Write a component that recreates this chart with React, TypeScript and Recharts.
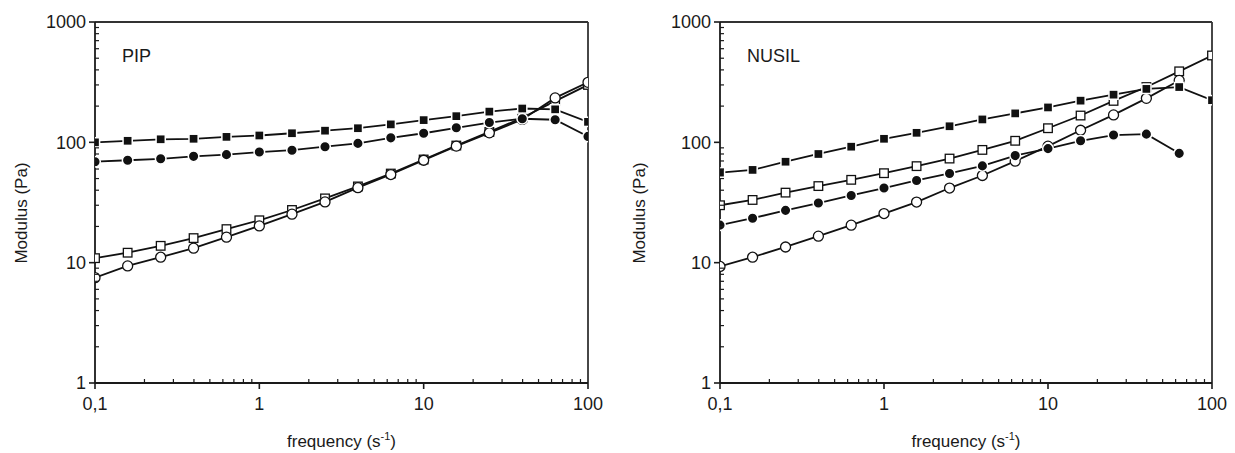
import { LineChart, Line, XAxis, YAxis, ReferenceLine } from 'recharts';

// frequencies (s^-1), 5 points per decade
const FREQ = [0.1, 0.158, 0.251, 0.398, 0.631, 1, 1.58, 2.51, 3.98, 6.31, 10, 15.8, 25.1, 39.8, 63.1, 100];

// PIP panel
const pipFilledSq = [100, 103, 106, 107, 111, 114, 119, 125, 131, 141, 153, 165, 180, 191, 188, 148];
const pipFilledCirc = [69, 71, 73, 76.5, 79, 83, 86, 92, 98, 109, 119, 132, 146, 157, 154, 112];
const pipOpenSq = [10.9, 12.1, 13.8, 16.0, 19.0, 22.5, 27.4, 34.2, 43, 55, 72, 94, 122, 160, 220, 300];
const pipOpenCirc = [7.5, 9.4, 11.1, 13.2, 16.3, 20.2, 25.3, 32, 42, 54, 71, 93, 120, 155, 234, 315];

// NUSIL panel
const nuFilledSq = [56, 59, 69, 80, 92, 107, 120, 136, 155, 174, 195, 222, 249, 278, 288, 224];
const nuOpenSq = [30, 33.2, 38.2, 43.3, 48.8, 55.4, 63.4, 73.3, 86.5, 103, 131, 167, 221, 288, 389, 527];
const nuFilledCirc = [20.5, 23.4, 27.2, 31.3, 36.2, 41.7, 48.2, 55.1, 63.7, 77.6, 88.7, 103, 115, 117, 81];
const nuOpenCirc = [9.3, 11.1, 13.5, 16.6, 20.5, 25.6, 31.9, 41.7, 53, 69.7, 93, 126, 169, 232, 327];

const X_TICKS = [0.1, 0.2, 0.3, 0.4, 0.5, 0.6, 0.7, 0.8, 0.9, 1, 2, 3, 4, 5, 6, 7, 8, 9, 10, 20, 30, 40, 50, 60, 70, 80, 90, 100];
const Y_TICKS = [1, 2, 3, 4, 5, 6, 7, 8, 9, 10, 20, 30, 40, 50, 60, 70, 80, 90, 100, 200, 300, 400, 500, 600, 700, 800, 900, 1000];

const FONT = '"Liberation Sans", Arial, Helvetica, sans-serif';
const INK = '#1a1a1a';

const toPoints = (vals: number[]) => vals.map((v, i) => ({ f: FREQ[i], v }));

const isMajor = (v: number) => Math.abs(Math.log10(v) - Math.round(Math.log10(v))) < 1e-6;
const fmt = (v: number) => (v < 1 ? String(v).replace('.', ',') : String(v));

const makeDot = (kind: string) => (p: any) => {
    const { cx, cy, index } = p;
    if (cx == null || cy == null) return <g key={index} />;
    if (kind === 'sq') return <rect key={index} x={cx - 4.6} y={cy - 4.6} width={9.2} height={9.2} fill="#111" stroke="#fff" strokeWidth={1.5} />;
    if (kind === 'sqo') return <rect key={index} x={cx - 4.3} y={cy - 4.3} width={8.6} height={8.6} fill="#fff" stroke="#111" strokeWidth={1.3} />;
    if (kind === 'ci') return <circle key={index} cx={cx} cy={cy} r={5.3} fill="#111" stroke="#fff" strokeWidth={1.5} />;
    return <circle key={index} cx={cx} cy={cy} r={5} fill="#fff" stroke="#111" strokeWidth={1.3} />;
};

const yTick = (p: any) => {
    const { x, y, payload } = p;
    const v = payload.value;
    if (!isMajor(v)) return <line x1={x} x2={x + 4} y1={y} y2={y} stroke={INK} strokeWidth={1.2} />;
    return (
        <g>
            <line x1={x - 6} x2={x} y1={y} y2={y} stroke={INK} strokeWidth={1.6} />
            <text x={x - 9} y={y} dy="0.35em" textAnchor="end" fontSize={18} fontFamily={FONT} fill={INK}>{fmt(v)}</text>
        </g>
    );
};

const xTick = (p: any) => {
    const { x, y, payload } = p;
    const v = payload.value;
    if (!isMajor(v)) return <line x1={x} x2={x} y1={y} y2={y - 4} stroke={INK} strokeWidth={1.2} />;
    return (
        <g>
            <line x1={x} x2={x} y1={y} y2={y + 6} stroke={INK} strokeWidth={1.6} />
            <text x={x} y={y + 14} dy="0.71em" textAnchor="middle" fontSize={18} fontFamily={FONT} fill={INK}>{fmt(v)}</text>
        </g>
    );
};

const xLabel = (p: any) => {
    const { x, width } = p.viewBox;
    return (
        <text x={x + width / 2} y={447} textAnchor="middle" fontSize={17} fontFamily={FONT} fill={INK}>
            <tspan>frequency (s</tspan>
            <tspan dy={-7} fontSize={11}>-1</tspan>
            <tspan dy={7}>)</tspan>
        </text>
    );
};

const yLabel = (p: any) => {
    const { x } = p.viewBox;
    const cx = x + 21;
    const cy = 213;
    return (
        <text x={cx} y={cy} dy="0.35em" textAnchor="middle" fontSize={17} fontFamily={FONT} fill={INK} transform={`rotate(-90, ${cx}, ${cy})`}>
            Modulus (Pa)
        </text>
    );
};

function Panel({ title, series, yWidth, right }: { title: string; series: { vals: number[]; kind: string }[]; yWidth: number; right: number }) {
    return (
        <LineChart width={617} height={453} margin={{ top: 22, right, bottom: 0, left: 0 }}>
            <XAxis
                dataKey="f" type="number" scale="log" domain={[0.1, 100]} ticks={X_TICKS} interval={0}
                height={70} tickSize={0} tickMargin={0} tickLine={false} tick={xTick}
                axisLine={{ stroke: INK, strokeWidth: 1.8 }} label={xLabel} allowDataOverflow
            />
            <YAxis
                dataKey="v" type="number" scale="log" domain={[1, 1000]} ticks={Y_TICKS} interval={0}
                width={yWidth} tickSize={0} tickMargin={0} tickLine={false} tick={yTick}
                axisLine={{ stroke: INK, strokeWidth: 1.8 }} label={yLabel} allowDataOverflow
            />
            <ReferenceLine
                y={1000} stroke="#333" strokeWidth={1.8}
                label={{ value: title, position: 'insideTopLeft', offset: 27, fontSize: 18, fill: INK, fontFamily: FONT }}
            />
            <ReferenceLine x={100} stroke="#333" strokeWidth={1.8} />
            {series.map((s, i) => (
                <Line
                    key={i} data={toPoints(s.vals)} dataKey="v" type="linear" stroke="#111" strokeWidth={1.8}
                    dot={makeDot(s.kind)} activeDot={false} isAnimationActive={false}
                />
            ))}
        </LineChart>
    );
}

export default function App() {
    const pip = [
        { vals: pipOpenSq, kind: 'sqo' },
        { vals: pipOpenCirc, kind: 'cio' },
        { vals: pipFilledSq, kind: 'sq' },
        { vals: pipFilledCirc, kind: 'ci' },
    ];
    const nusil = [
        { vals: nuOpenSq, kind: 'sqo' },
        { vals: nuOpenCirc, kind: 'cio' },
        { vals: nuFilledSq, kind: 'sq' },
        { vals: nuFilledCirc, kind: 'ci' },
    ];
    return (
        <div style={{ position: 'absolute', left: 0, top: 0, width: 1235, height: 453, background: '#fff', fontFamily: FONT }}>
            <div style={{ position: 'absolute', left: 0, top: 0 }}>
                <Panel title="PIP" series={pip} yWidth={95} right={29} />
            </div>
            <div style={{ position: 'absolute', left: 618, top: 0 }}>
                <Panel title="NUSIL" series={nusil} yWidth={102} right={23} />
            </div>
        </div>
    );
}
